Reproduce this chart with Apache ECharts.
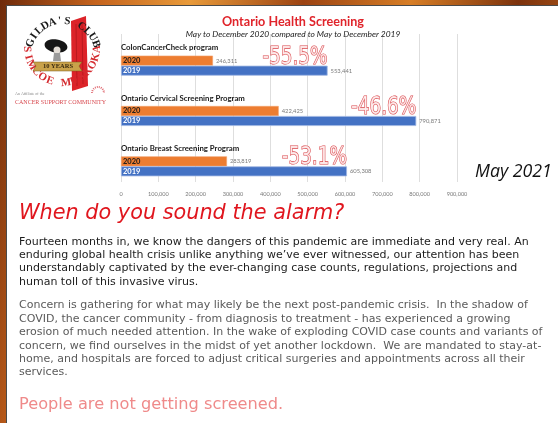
<!DOCTYPE html>
<html>
<head>
<meta charset="utf-8">
<script src="https://cdn.jsdelivr.net/npm/echarts@6/dist/echarts.min.js"></script>
<style>
html, body { margin: 0; padding: 0; }
body {
  width: 558px; height: 423px; overflow: hidden; position: relative;
  background: linear-gradient(100deg, #6e2a0a 0%, #c4621c 15%, #e89a3a 30%, #9c4312 48%, #d77e26 65%, #7c320c 82%, #c86a20 100%);
}
.panel { position: absolute; left: 6px; top: 5px; right: 0; bottom: 0; background: #fff; border-left: 1px solid #4a4a4a; border-top: 1px solid #4a4a4a; }
#chart { position: absolute; left: 0; top: 0; width: 558px; height: 423px; }
.txt { position: absolute; left: 19px; white-space: nowrap; font-family: "DejaVu Sans", sans-serif; }
.alarm { top: 199px; line-height: 26px; font-style: italic; font-size: 20.8px; color: #e0161e; }
.p1 { top: 234.5px; line-height: 13.4px; font-size: 11px; color: #1c1c1c; }
.p2 { top: 298.3px; line-height: 13.4px; font-size: 11px; color: #5a5a5a; }
.screened { top: 395px; line-height: 18px; font-size: 16.2px; color: #ef8a8a; }
.may { position: absolute; left: 475px; top: 158px; line-height: 24px; font-family: "Open Sans", sans-serif; font-style: italic; font-size: 17.8px; color: #111; }
</style>
</head>
<body>
<div class="panel"></div>
<div id="chart"></div>
<div class="may">May 2021</div>
<div class="txt alarm">When do you sound the alarm?</div>
<div class="txt p1">Fourteen months in, we know the dangers of this pandemic are immediate and very real. An<br>enduring global health crisis unlike anything we’ve ever witnessed, our attention has been<br>understandably captivated by the ever-changing case counts, regulations, projections and<br>human toll of this invasive virus.</div>
<div class="txt p2">Concern is gathering for what may likely be the next post-pandemic crisis.&nbsp; In the shadow of<br>COVID, the cancer community - from diagnosis to treatment - has experienced a growing<br>erosion of much needed attention. In the wake of exploding COVID case counts and variants of<br>concern, we find ourselves in the midst of yet another lockdown.&nbsp; We are mandated to stay-at-<br>home, and hospitals are forced to adjust critical surgeries and appointments across all their<br>services.</div>
<div class="txt screened">People are not getting screened.</div>
<script>
// 数据
const programs = ['ColonCancerCheck program', 'Ontario Cervical Screening Program', 'Ontario Breast Screening Program'];
const screened2020 = [246311, 422425, 283819];
const screened2019 = [553441, 790871, 605308];
const changeLabels = ['-55.5%', '-46.6%', '-53.1%'];
const yearNames = ['2020', '2019'];

const fmt = (v) => v.toLocaleString('en-US');
const chartFont = 'Lato, "Open Sans", sans-serif';

// 圆弧文字（logo）
function arcText(str, cx, cy, r, fromDeg, toDeg, top, color) {
  const out = [];
  const n = str.length;
  for (let i = 0; i < n; i++) {
    const deg = fromDeg + (toDeg - fromDeg) * (i / (n - 1));
    const t = deg * Math.PI / 180;
    out.push({
      type: 'text',
      x: cx + r * Math.cos(t),
      y: cy - r * Math.sin(t),
      rotation: top ? t - Math.PI / 2 : t - Math.PI * 1.5,
      style: {
        text: str[i], fill: color, font: 'bold 11px "Liberation Serif", serif',
        align: 'center', verticalAlign: 'middle'
      },
      z: 6
    });
  }
  return out;
}

const logo = [].concat(
  [
    { type: 'polygon', shape: { points: [[71, 21], [86, 16], [88, 86], [72, 91]] }, style: { fill: '#dc2329' }, z: 4 },
    { type: 'polyline', shape: { points: [[76, 24], [77, 86]] }, style: { stroke: '#b0161c', lineWidth: 0.8, fill: null }, z: 4 },
    { type: 'polyline', shape: { points: [[82, 22], [83, 84]] }, style: { stroke: '#b0161c', lineWidth: 0.8, fill: null }, z: 4 },
    { type: 'ellipse', shape: { cx: 56, cy: 46, rx: 11.5, ry: 6.5 }, rotation: -0.15, originX: 56, originY: 46, style: { fill: '#161616' }, z: 5 },
    { type: 'circle', shape: { cx: 57, cy: 50, r: 3.5 }, style: { fill: '#e3ddd6' }, z: 5 },
    { type: 'polygon', shape: { points: [[54, 53], [60, 53], [61, 61], [53, 61]] }, style: { fill: '#9a9a9a' }, z: 5 },
    { type: 'polygon', shape: { points: [[33, 62], [82, 62], [79, 66], [82, 71], [33, 71], [36, 66]] }, style: { fill: '#c9a24a', stroke: '#7a5a18', lineWidth: 0.5 }, z: 7 },
    { type: 'text', x: 58, y: 66.5, style: { text: '10 YEARS', fill: '#3a2a10', font: 'bold 6.5px "Liberation Serif", serif', align: 'center', verticalAlign: 'middle' }, z: 8 },
    { type: 'text', x: 15, y: 94, style: { text: 'An Affiliate of the', fill: '#888', font: '4px "Liberation Serif", serif', verticalAlign: 'middle' }, z: 5 },
    { type: 'text', x: 15, y: 102.5, style: { text: 'CANCER SUPPORT COMMUNITY', fill: '#d8484e', font: '6px "Liberation Serif", serif', verticalAlign: 'middle' }, z: 5 },
    { type: 'arc', shape: { cx: 98, cy: 93, r: 6, startAngle: Math.PI, endAngle: Math.PI * 2 }, style: { stroke: '#e2737a', lineWidth: 2, fill: null, lineDash: [1, 1] }, z: 5 }
  ],
  arcText("GILDA'S CLUB", 63, 56, 35, 158, 20, true, '#1a1a1a'),
  arcText('SIMCOE MUSKOKA', 62, 48, 35, 182, 358, false, '#d42a2f')
);

const chart = echarts.init(document.getElementById('chart'));

const option = {
  animation: false,
  title: {
    text: 'Ontario Health Screening',
    subtext: 'May to December 2020 compared to May to December 2019',
    left: 288, top: 10, textAlign: 'center', itemGap: 2,
    textStyle: { color: '#e0242b', fontSize: 12.6, fontWeight: 'bold', fontFamily: chartFont },
    subtextStyle: { color: '#222', fontSize: 8.4, fontStyle: 'italic', fontFamily: chartFont }
  },
  grid: [
    { left: 121, width: 336, top: 40.5, height: 151 },
    { left: 121, width: 336, top: 34, height: 148 }
  ],
  xAxis: [
    { gridIndex: 0, type: 'value', min: 0, max: 900000, interval: 100000, show: false },
    {
      gridIndex: 1, type: 'value', min: 0, max: 900000, interval: 100000,
      axisLine: { show: false }, axisTick: { show: false },
      splitLine: { lineStyle: { color: '#dedede', width: 1 } },
      axisLabel: { formatter: fmt, fontSize: 5.6, color: '#7a7a7a', margin: 9, fontFamily: chartFont }
    }
  ],
  yAxis: [
    {
      gridIndex: 0, type: 'category', data: programs, inverse: true,
      axisLine: { show: false }, axisTick: { show: false },
      axisLabel: {
        inside: true, align: 'left', verticalAlign: 'middle', margin: 0,
        formatter: (v) => '{n|' + v + '}\n{s| }',
        rich: {
          n: { fontSize: 7.8, fontWeight: 'bold', color: '#1a1a1a', fontFamily: chartFont, lineHeight: 10 },
          s: { height: 35.4, lineHeight: 35.4, fontSize: 1 }
        }
      }
    },
    { gridIndex: 1, type: 'category', data: [''], show: false }
  ],
  series: [
    {
      name: yearNames[0], type: 'bar', data: screened2020, barWidth: 10, barGap: '0%',
      itemStyle: { color: '#ed7d31', borderColor: '#f4a06a', borderWidth: 0.6 },
      label: { show: true, position: 'right', formatter: (p) => fmt(p.value), fontSize: 5.8, color: '#7a7a7a', distance: 3, fontFamily: chartFont }
    },
    {
      name: yearNames[1], type: 'bar', data: screened2019, barWidth: 10,
      itemStyle: { color: '#4472c4', borderColor: '#9fb6e2', borderWidth: 0.8 },
      label: { show: true, position: 'right', formatter: (p) => fmt(p.value), fontSize: 5.8, color: '#7a7a7a', distance: 3, fontFamily: chartFont }
    }
  ]
};

chart.setOption(option);

// 标注：年份与变化百分比（位置由坐标轴换算）
const notes = [];
programs.forEach((p, i) => {
  const base = chart.convertToPixel({ xAxisIndex: 0, yAxisIndex: 0 }, [0, p]);
  const end = chart.convertToPixel({ xAxisIndex: 0, yAxisIndex: 0 }, [screened2019[i], p]);
  yearNames.forEach((y, k) => {
    notes.push({
      type: 'text', x: base[0] + 2, y: base[1] + (k === 0 ? -5 : 5), z: 20,
      style: { text: y, fill: k === 0 ? '#1a1a1a' : '#ffffff', font: 'bold 7.5px Lato, sans-serif', align: 'left', verticalAlign: 'middle' }
    });
  });
  notes.push({
    type: 'text', x: end[0], y: end[1] - 8.5, scaleX: 0.82, z: 20,
    style: {
      text: changeLabels[i], font: '25px "DejaVu Sans Condensed", "DejaVu Sans", sans-serif',
      fill: 'rgba(255,240,240,0.85)', stroke: '#d9464b', lineWidth: 1.2,
      align: 'right', verticalAlign: 'middle'
    }
  });
});

chart.setOption({ graphic: logo.concat(notes) });
</script>
</body>
</html>
